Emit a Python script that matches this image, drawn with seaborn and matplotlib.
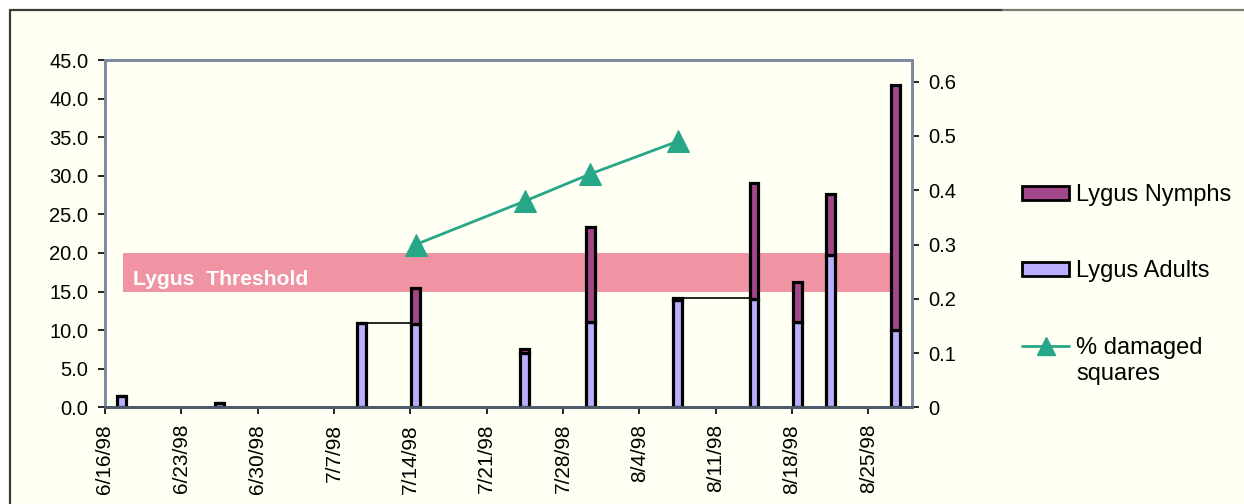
import matplotlib
matplotlib.use("Agg")
import matplotlib.pyplot as plt
import matplotlib.dates as mdates
from matplotlib.patches import Patch, Rectangle
from matplotlib.lines import Line2D
from matplotlib.ticker import FuncFormatter, FixedLocator
import pandas as pd
import seaborn as sns

# Lygus counts per sampling date
sample_dates = ["1998-06-17", "1998-06-26", "1998-07-09", "1998-07-14", "1998-07-24",
                "1998-07-30", "1998-08-07", "1998-08-14", "1998-08-18", "1998-08-21",
                "1998-08-27"]
lygus_adults = [1.4, 0.6, 10.9, 10.8, 7.1, 11.0, 13.9, 14.0, 11.0, 19.7, 10.0]
lygus_nymphs = [0.0, 0.0, 0.0, 4.7, 0.5, 12.3, 0.2, 15.0, 5.2, 7.9, 31.7]

# Square damage (right axis)
damage_dates = ["1998-07-14", "1998-07-24", "1998-07-30", "1998-08-07"]
damaged_squares = [0.30, 0.38, 0.43, 0.49]

# Weekly axis ticks
tick_dates = ["1998-06-16", "1998-06-23", "1998-06-30", "1998-07-07", "1998-07-14",
              "1998-07-21", "1998-07-28", "1998-08-04", "1998-08-11", "1998-08-18",
              "1998-08-25"]
left_ticks = [0, 5, 10, 15, 20, 25, 30, 35, 40, 45]
right_ticks = [0, 0.1, 0.2, 0.3, 0.4, 0.5, 0.6]

threshold_low, threshold_high = 15.0, 20.0
threshold_start, threshold_end = "1998-06-17 15:30", "1998-08-27 01:00"

NYMPH = "#A2488A"
ADULT = "#BAAEFF"
TEAL = "#27A688"
PINK = "#F094A4"
CREAM = "#FFFFF3"
SPINE = "#7E8AA0"

sns.set_theme(style="white")
plt.rcParams["font.family"] = ["Liberation Sans", "DejaVu Sans"]
plt.rcParams["text.color"] = "black"
plt.rcParams["xtick.color"] = "black"
plt.rcParams["ytick.color"] = "black"

fig = plt.figure(figsize=(12.44, 5.04), dpi=100, facecolor="white")
W, H = 1244, 504

# chart area background and frame
fig.patches.append(Rectangle((10 / W, 0), 1 - 10 / W, 1 - 10 / H, transform=fig.transFigure,
                             facecolor=CREAM, edgecolor="none", zorder=-10))
fig.add_artist(Line2D([10 / W, 10 / W], [0, 1 - 10 / H], transform=fig.transFigure,
                      color="#3a3a36", lw=1.6, zorder=-5))
fig.add_artist(Line2D([10 / W, 1003 / W], [1 - 10 / H, 1 - 10 / H], transform=fig.transFigure,
                      color="#3a3a36", lw=1.6, zorder=-5))
fig.add_artist(Line2D([1003 / W, 1], [1 - 10 / H, 1 - 10 / H], transform=fig.transFigure,
                      color="#7c7c70", lw=1.6, zorder=-5))

ax = fig.add_axes([105 / W, 96.7 / H, (912 - 105) / W, (407.3 - 60) / H])
ax.set_facecolor(CREAM)

dates = pd.to_datetime(sample_dates)
centers = dates + pd.Timedelta(hours=12)
bar_w = 0.8

# threshold band
ax.fill_between(pd.to_datetime([threshold_start, threshold_end]),
                [threshold_low] * 2, [threshold_high] * 2,
                color=PINK, lw=0, zorder=1)
ax.text(pd.Timestamp("1998-06-18 14:00"), (threshold_low + threshold_high) / 2 - 1.0,
        "Lygus  Threshold", color="white", fontsize=15.2, fontweight="bold",
        va="center", ha="left", zorder=2)

# stacked columns
ax.bar(centers, lygus_adults, width=bar_w, color=ADULT, edgecolor="black",
       linewidth=2.3, zorder=3)
ax.bar(centers, lygus_nymphs, bottom=lygus_adults, width=bar_w, color=NYMPH,
       edgecolor="black", linewidth=2.3, zorder=3)

# connector lines between neighbouring columns
totals = [a + n for a, n in zip(lygus_adults, lygus_nymphs)]
half = pd.Timedelta(hours=12 * bar_w)
for i in (2, 6):
    ax.plot([centers[i] + half, centers[i + 1] - half], [totals[i], totals[i]],
            color="black", lw=1.2, zorder=2.5)

ax.set_xlim(pd.Timestamp("1998-06-16"), pd.Timestamp("1998-08-29"))
ax.set_ylim(0, 45)
ax.xaxis.set_major_locator(FixedLocator(mdates.date2num(pd.to_datetime(tick_dates))))
ax.xaxis.set_major_formatter(FuncFormatter(
    lambda v, p: (lambda d: f"{d.month}/{d.day}/{d:%y}")(mdates.num2date(v))))
ax.set_yticks(left_ticks)
ax.yaxis.set_major_formatter(FuncFormatter(lambda v, p: f"{v:.1f}"))
ax.tick_params(axis="x", which="major", direction="out", length=5, width=1.2,
               color="black", labelsize=15, pad=7, rotation=90, bottom=True)
ax.tick_params(axis="y", which="major", direction="out", length=5, width=1.2,
               color="black", labelsize=14.5, pad=7, left=True)
for lab in ax.get_xticklabels():
    lab.set_va("top")
    lab.set_ha("center")

# damaged squares on the secondary axis
ax2 = ax.twinx()
sns.lineplot(x=pd.to_datetime(damage_dates) + pd.Timedelta(hours=12), y=damaged_squares,
             ax=ax2, color=TEAL, lw=2, marker="^", markersize=16,
             markeredgecolor=TEAL, legend=False, zorder=5)
ax2.set_ylim(0, 0.64)
ax2.set_yticks(right_ticks)
ax2.yaxis.set_major_formatter(FuncFormatter(lambda v, p: f"{v:g}"))
ax2.tick_params(axis="y", which="major", direction="out", length=5, width=1.2,
                color="black", labelsize=14.5, pad=7, right=True)
ax2.set_ylabel("")
ax2.set_xlabel("")

for a in (ax, ax2):
    for s in a.spines.values():
        s.set_color(SPINE)
        s.set_linewidth(2)
    a.spines["bottom"].set_color("#4f5a6e")

handles = [Patch(facecolor=NYMPH, edgecolor="black", lw=2),
           Patch(facecolor=ADULT, edgecolor="black", lw=2),
           Line2D([], [], color=TEAL, lw=2, marker="^", markersize=13)]
labels = ["Lygus Nymphs", "Lygus Adults", "% damaged"]
leg = fig.legend(handles, labels, loc="upper left", bbox_to_anchor=(1022 / W, 1 - 184 / H),
                 frameon=False, fontsize=17, handlelength=2.0, handleheight=0.55,
                 handletextpad=0.3, labelspacing=2.3, borderpad=0, borderaxespad=0)
# second line of the damage label, set under the first
fig.canvas.draw()
bb = leg.get_texts()[2].get_window_extent()
fig.text(bb.x0 / fig.dpi, (bb.y0 - 4) / fig.dpi, "squares", fontsize=17,
         va="top", ha="left", color="black", transform=fig.dpi_scale_trans)

fig.savefig("out.png", dpi=100, facecolor="white")
